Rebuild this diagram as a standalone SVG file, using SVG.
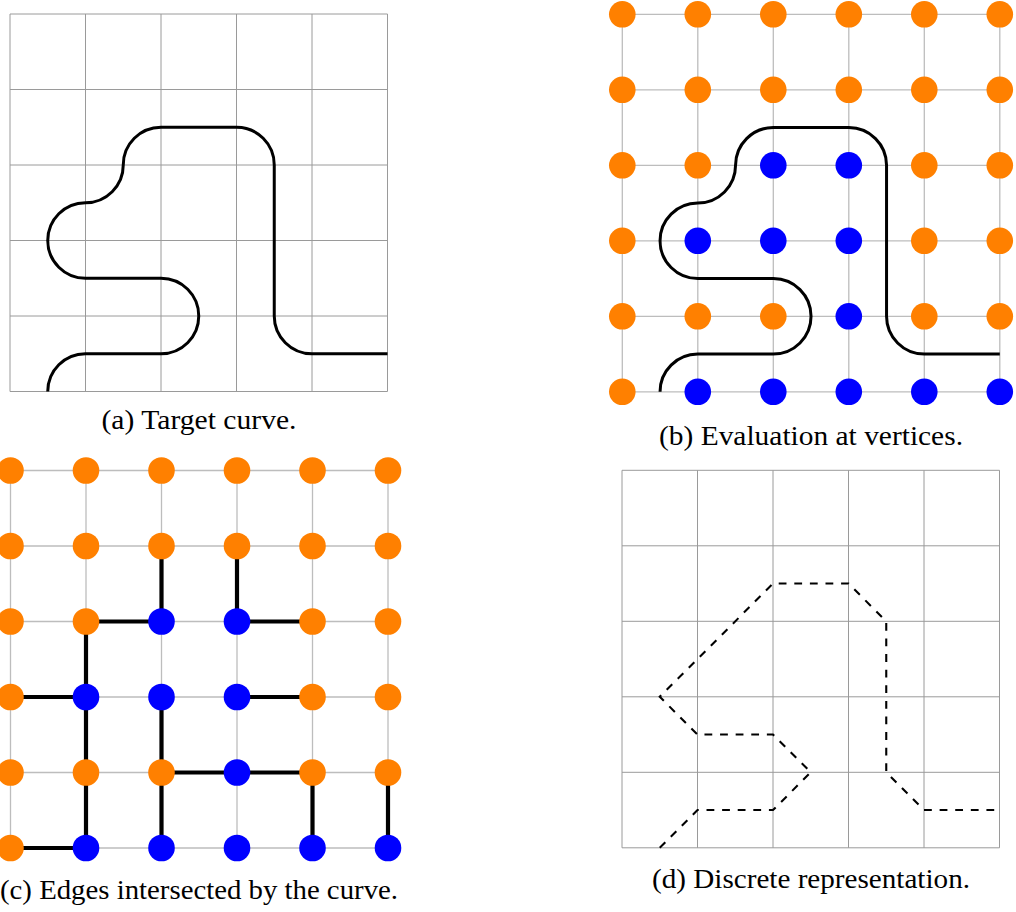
<svg xmlns="http://www.w3.org/2000/svg" width="1016" height="912" viewBox="0 0 1016 912">
<defs>
<style>
.bg{fill:#ffffff}
.gridA{fill:none;stroke:#9a9a9a;stroke-width:1}
.gridB{fill:none;stroke:#bdbdbd;stroke-width:1.3}
.curve{fill:none;stroke:#000;stroke-width:3;stroke-linejoin:round}
.dash{fill:none;stroke:#000;stroke-width:2.1;stroke-dasharray:7.8 7.8}
.edge{fill:none;stroke:#000;stroke-width:4.2;stroke-linecap:butt}
.out{fill:#ff8000}
.in{fill:#0000ff}
.cap{font-family:"Liberation Serif","Times New Roman",serif;font-size:27px;fill:#000;text-anchor:middle}
</style>
<path id="grid" d="M0 0H377.5M0 75.5H377.5M0 151H377.5M0 226.5H377.5M0 302H377.5M0 377.5H377.5M0 0V377.5M75.5 0V377.5M151 0V377.5M226.5 0V377.5M302 0V377.5M377.5 0V377.5"/>
<path id="curvePath" d="M37.75 377.5A37.75 37.75 0 0 1 75.5 339.75H151A37.75 37.75 0 0 0 151 264.25H75.5A37.75 37.75 0 0 1 75.5 188.75A37.75 37.75 0 0 0 113.25 151A37.75 37.75 0 0 1 151 113.25H226.5A37.75 37.75 0 0 1 264.25 151V302A37.75 37.75 0 0 0 302 339.75H377.5"/>
<g id="dots">
<circle class="out" cx="0" cy="0" r="13.3"/><circle class="out" cx="75.5" cy="0" r="13.3"/><circle class="out" cx="151" cy="0" r="13.3"/><circle class="out" cx="226.5" cy="0" r="13.3"/><circle class="out" cx="302" cy="0" r="13.3"/><circle class="out" cx="377.5" cy="0" r="13.3"/>
<circle class="out" cx="0" cy="75.5" r="13.3"/><circle class="out" cx="75.5" cy="75.5" r="13.3"/><circle class="out" cx="151" cy="75.5" r="13.3"/><circle class="out" cx="226.5" cy="75.5" r="13.3"/><circle class="out" cx="302" cy="75.5" r="13.3"/><circle class="out" cx="377.5" cy="75.5" r="13.3"/>
<circle class="out" cx="0" cy="151" r="13.3"/><circle class="out" cx="75.5" cy="151" r="13.3"/><circle class="in" cx="151" cy="151" r="13.3"/><circle class="in" cx="226.5" cy="151" r="13.3"/><circle class="out" cx="302" cy="151" r="13.3"/><circle class="out" cx="377.5" cy="151" r="13.3"/>
<circle class="out" cx="0" cy="226.5" r="13.3"/><circle class="in" cx="75.5" cy="226.5" r="13.3"/><circle class="in" cx="151" cy="226.5" r="13.3"/><circle class="in" cx="226.5" cy="226.5" r="13.3"/><circle class="out" cx="302" cy="226.5" r="13.3"/><circle class="out" cx="377.5" cy="226.5" r="13.3"/>
<circle class="out" cx="0" cy="302" r="13.3"/><circle class="out" cx="75.5" cy="302" r="13.3"/><circle class="out" cx="151" cy="302" r="13.3"/><circle class="in" cx="226.5" cy="302" r="13.3"/><circle class="out" cx="302" cy="302" r="13.3"/><circle class="out" cx="377.5" cy="302" r="13.3"/>
<circle class="out" cx="0" cy="377.5" r="13.3"/><circle class="in" cx="75.5" cy="377.5" r="13.3"/><circle class="in" cx="151" cy="377.5" r="13.3"/><circle class="in" cx="226.5" cy="377.5" r="13.3"/><circle class="in" cx="302" cy="377.5" r="13.3"/><circle class="in" cx="377.5" cy="377.5" r="13.3"/>
</g>
</defs>
<rect class="bg" x="0" y="0" width="1016" height="912"/>

<g id="panel-a" transform="translate(10,14)">
<use href="#grid" class="gridA"/>
<use href="#curvePath" class="curve"/>
</g>
<text id="caption-a" class="cap" x="199" y="429" textLength="195" lengthAdjust="spacingAndGlyphs">(a) Target curve.</text>

<g id="panel-b" transform="translate(622.3,14.3)">
<use href="#grid" class="gridB"/>
<use href="#curvePath" class="curve"/>
<use href="#dots"/>
</g>
<text id="caption-b" class="cap" x="811" y="445" textLength="304" lengthAdjust="spacingAndGlyphs">(b) Evaluation at vertices.</text>

<g id="panel-c" transform="translate(10.5,470.5)">
<use href="#grid" class="gridB"/>
<g id="connectors">
<path class="edge" d="M151 75.5V151M226.5 75.5V151M75.5 151H151M226.5 151H302M75.5 151V226.5M0 226.5H75.5M226.5 226.5H302M75.5 226.5V302M151 226.5V302M151 302H302M75.5 302V377.5M151 302V377.5M302 302V377.5M377.5 302V377.5M0 377.5H75.5"/>
</g>
<use href="#dots"/>
</g>
<text id="caption-c" class="cap" x="199" y="899" textLength="398" lengthAdjust="spacingAndGlyphs">(c) Edges intersected by the curve.</text>

<g id="panel-d" transform="translate(622,470.3)">
<use href="#grid" class="gridA"/>
<polyline class="dash" points="37.75,377.5 75.5,339.75 151,339.75 188.75,302 151,264.25 75.5,264.25 37.75,226.5 151,113.25 226.5,113.25 264.25,151 264.25,302 302,339.75 377.5,339.75"/>
</g>
<text id="caption-d" class="cap" x="811" y="888" textLength="318" lengthAdjust="spacingAndGlyphs">(d) Discrete representation.</text>
</svg>
